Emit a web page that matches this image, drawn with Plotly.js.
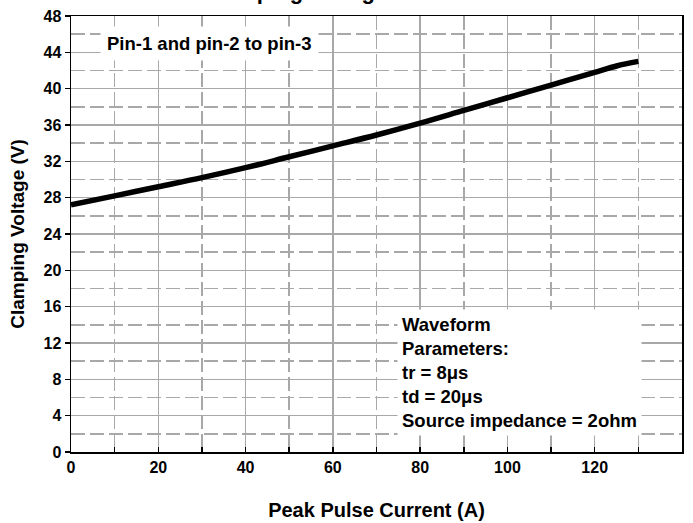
<!DOCTYPE html>
<html>
<head>
<meta charset="utf-8">
<script src="https://cdn.plot.ly/plotly-3.0.1.min.js"></script>
<style>html,body{margin:0;padding:0;background:#fff;}#chart{width:693px;height:523px;}</style>
</head>
<body>
<div id="chart"></div>
<script>
const current = [0, 10, 20, 30, 40, 50, 60, 70, 80, 90, 100, 110, 120, 125, 130];
const clampVoltage = [27.2, 28.2, 29.2, 30.2, 31.3, 32.5, 33.7, 34.9, 36.2, 37.6, 39.0, 40.4, 41.8, 42.5, 43.0];
const chartTitle = "Clamping Voltage vs. Peak Pulse Current";
const xTitle = "Peak Pulse Current (A)";
const yTitle = "Clamping Voltage (V)";
const pinLabel = "Pin-1 and pin-2 to pin-3";
const waveLines = ["Waveform", "Parameters:", "tr = 8μs", "td = 20μs", "Source impedance = 2ohm"];

const FONT = '"Liberation Sans", Arial, Helvetica, sans-serif';
const gridCol = '#a8a8a8';

const trace = {
  x: current, y: clampVoltage, type: 'scatter', mode: 'lines',
  line: {color: '#000', width: 5.5, shape: 'spline'}, hoverinfo: 'skip'
};

const layout = {
  width: 693, height: 523,
  margin: {l: 71, r: 11, t: 16, b: 71},
  paper_bgcolor: '#fff', plot_bgcolor: '#fff',
  showlegend: false,
  font: {family: FONT, color: '#000'},
  xaxis: {
    range: [0, 140], dtick: 20, tick0: 0,
    showgrid: true, gridcolor: gridCol, gridwidth: 1.5,
    ticks: 'inside', ticklen: 5, tickcolor: '#000', tickwidth: 1.5,
    showline: true, linecolor: '#000', linewidth: 1.5, mirror: true,
    zeroline: false,
    tickfont: {family: FONT, size: 16, weight: 'bold', color: '#000'},
    minor: {dtick: 10, showgrid: true, gridcolor: gridCol, gridwidth: 1.5, griddash: '14px,5px', ticks: 'inside', ticklen: 5, tickcolor: '#000', tickwidth: 1.5},
    title: {text: xTitle, font: {family: FONT, size: 20, weight: 'bold', color: '#000'}, standoff: 28}
  },
  yaxis: {
    range: [0, 48], dtick: 4, tick0: 0,
    showgrid: true, gridcolor: gridCol, gridwidth: 1.5,
    ticks: 'outside', ticklen: 5, tickcolor: '#000', tickwidth: 1.5,
    showline: true, linecolor: '#000', linewidth: 1.5, mirror: true,
    zeroline: false,
    tickfont: {family: FONT, size: 16, weight: 'bold', color: '#000'},
    minor: {dtick: 2, showgrid: true, gridcolor: gridCol, gridwidth: 1.5, griddash: '14px,5px'},
    title: {text: yTitle, font: {family: FONT, size: 19, weight: 'bold', color: '#000'}, standoff: 14}
  },
  annotations: [
    {text: '<b>' + chartTitle + '</b>', xref: 'paper', yref: 'paper', x: 0.213, y: 1, xanchor: 'left', yanchor: 'bottom', yshift: 10,
     showarrow: false, font: {family: FONT, size: 22, color: '#000'}},
    {text: '<b>' + pinLabel + '</b>', xref: 'x', yref: 'y', x: 6.6, y: 45, xanchor: 'left', yanchor: 'middle',
     showarrow: false, bgcolor: '#fff', borderpad: 6, font: {family: FONT, size: 18.5, color: '#000'}},
    {text: '<b>' + waveLines.join('<br>') + '</b>', xref: 'x', yref: 'y', x: 74.6, y: 8.7, xanchor: 'left', yanchor: 'middle', align: 'left',
     showarrow: false, bgcolor: '#fff', borderpad: 4, font: {family: FONT, size: 18.5, color: '#000'}}
  ]
};

Plotly.newPlot('chart', [trace], layout, {staticPlot: true, displayModeBar: false});
</script>
</body>
</html>
